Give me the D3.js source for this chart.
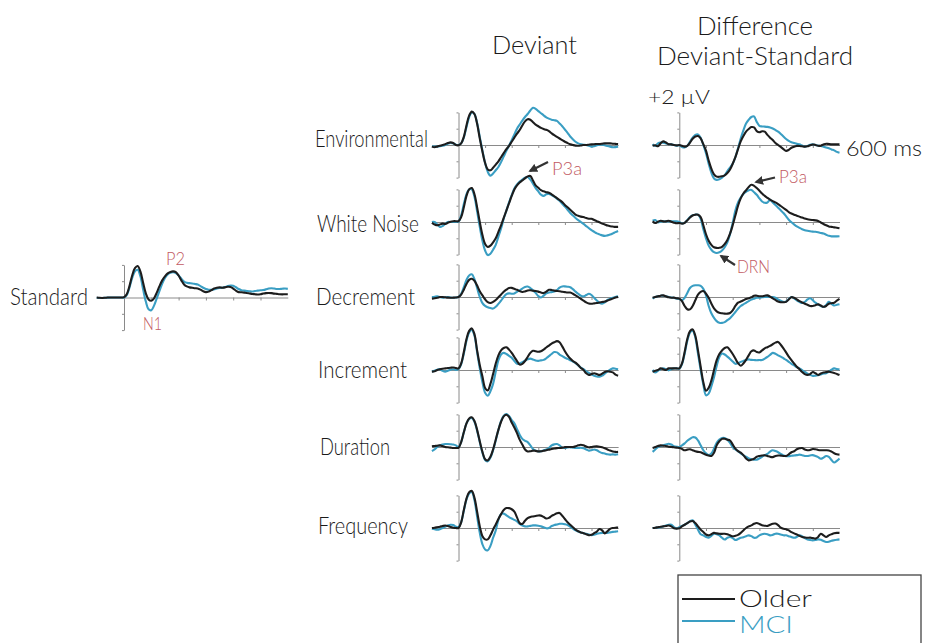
<!DOCTYPE html>
<html>
<head>
<meta charset="utf-8">
<script src="https://cdn.jsdelivr.net/npm/d3@7"></script>
<style>
  html, body { margin: 0; background: #fff; }
  svg { display: block; font-family: Lato, "Open Sans", sans-serif; font-weight: 300; }
</style>
</head>
<body>
<svg id="chart" width="925" height="643"></svg>
<script>
// Sampling grid of every waveform: -100 .. 600 ms, 10 ms steps (71 samples)
const timeMs = d3.range(-100, 601, 10);

const rowNames = ["Environmental", "White Noise", "Decrement", "Increment", "Duration", "Frequency"];
const columnTitles = ["Deviant", "Difference", "Deviant-Standard"];
const groupNames = ["Older", "MCI"];
const voltTicks = [-2, -1, 0, 1, 2];        // µV
const timeTicks = [100, 200, 300, 400, 500]; // ms

// ---- Standard (µV) ----
const standardOlder = [
  0.0, -0.02, -0.03, -0.02, 0, 0, 0, 0, 0, 0,
  0.02, 0.2, 0.7, 1.35, 1.8, 1.93, 1.6, 0.9, 0.25, -0.12,
  -0.2, -0.05, 0.3, 0.7, 1.05, 1.3, 1.48, 1.57, 1.6, 1.55,
  1.35, 1.05, 0.8, 0.68, 0.62, 0.6, 0.57, 0.55, 0.48, 0.38,
  0.33, 0.36, 0.45, 0.55, 0.6, 0.62, 0.6, 0.62, 0.66, 0.65,
  0.55, 0.42, 0.33, 0.32, 0.3, 0.28, 0.25, 0.22, 0.2, 0.18,
  0.2, 0.24, 0.27, 0.28, 0.27, 0.24, 0.22, 0.2, 0.19, 0.2,
  0.2];
const standardMCI = [
  -0.02, -0.03, -0.03, -0.02, -0.01, 0, 0, 0, 0, 0,
  0.0, 0.15, 0.6, 1.2, 1.6, 1.7, 1.3, 0.5, -0.25, -0.72,
  -0.78, -0.5, -0.05, 0.4, 0.85, 1.2, 1.42, 1.52, 1.55, 1.5,
  1.35, 1.15, 0.98, 0.9, 0.88, 0.86, 0.83, 0.8, 0.7, 0.6,
  0.52, 0.48, 0.47, 0.5, 0.55, 0.58, 0.6, 0.64, 0.7, 0.73,
  0.72, 0.63, 0.52, 0.45, 0.42, 0.4, 0.38, 0.37, 0.4, 0.42,
  0.44, 0.46, 0.5, 0.55, 0.57, 0.55, 0.52, 0.52, 0.54, 0.55,
  0.53];

// ---- Deviant (µV) ----
const devEnvOlder = [
  -0.1, -0.14, -0.1, -0.05, 0.0, 0.05, 0.12, 0.16, 0.12, 0.0,
  -0.02, 0.1, 0.5, 1.2, 1.8, 2.05, 1.9, 1.3, 0.4, -0.4,
  -1.1, -1.5, -1.55, -1.4, -1.2, -1.0, -0.75, -0.5, -0.25, -0.05,
  0.2, 0.45, 0.7, 0.92, 1.2, 1.45, 1.58, 1.55, 1.4, 1.25,
  1.15, 1.05, 0.98, 0.93, 0.85, 0.72, 0.6, 0.5, 0.4, 0.3,
  0.2, 0.12, 0.05, 0.0, -0.04, -0.05, -0.03, 0.0, 0.0, 0.02,
  0.04, 0.05, 0.06, 0.06, 0.08, 0.1, 0.1, 0.1, 0.08, 0.07,
  0.06];
const devEnvMCI = [
  -0.08, -0.1, -0.1, -0.08, -0.05, 0.0, 0.08, 0.12, 0.1, 0.02,
  0.0, 0.1, 0.45, 1.1, 1.7, 2.0, 1.9, 1.35, 0.5, -0.35,
  -1.1, -1.65, -1.88, -1.75, -1.55, -1.35, -1.05, -0.7, -0.35, -0.05,
  0.3, 0.65, 1.0, 1.25, 1.5, 1.72, 1.9, 2.12, 2.28, 2.22,
  2.08, 1.95, 1.82, 1.7, 1.62, 1.55, 1.52, 1.48, 1.32, 1.15,
  0.95, 0.75, 0.52, 0.35, 0.2, 0.1, 0.04, 0.02, 0.0, -0.05,
  -0.1, -0.08, -0.02, 0.02, 0.02, -0.02, -0.06, -0.1, -0.14, -0.13,
  -0.1];
const devWhiteOlder = [
  -0.05, -0.15, -0.2, -0.15, -0.1, -0.12, -0.05, 0.02, 0.05, 0.05,
  0.05, 0.3, 0.9, 1.6, 2.0, 2.08, 1.7, 0.9, 0.0, -0.8,
  -1.35, -1.53, -1.45, -1.25, -1.0, -0.6, -0.2, 0.25, 0.7, 1.15,
  1.6, 2.0, 2.25, 2.42, 2.55, 2.68, 2.8, 2.82, 2.55, 2.25,
  2.1, 1.95, 1.88, 1.83, 1.8, 1.7, 1.58, 1.47, 1.35, 1.22,
  1.05, 0.9, 0.75, 0.6, 0.45, 0.38, 0.33, 0.3, 0.24, 0.2,
  0.2, 0.12, 0.05, -0.02, -0.1, -0.15, -0.22, -0.26, -0.28, -0.3,
  -0.3];
const devWhiteMCI = [
  0.0, 0.0, -0.15, -0.3, -0.25, -0.12, 0.0, 0.0, 0.0, 0.0,
  0.02, 0.4, 1.1, 1.7, 2.0, 2.0, 1.55, 0.65, -0.3, -1.15,
  -1.75, -2.03, -1.95, -1.7, -1.4, -0.9, -0.4, 0.2, 0.7, 1.2,
  1.65, 2.05, 2.3, 2.48, 2.6, 2.72, 2.76, 2.6, 2.35, 2.08,
  1.88, 1.68, 1.6, 1.7, 1.72, 1.65, 1.55, 1.43, 1.3, 1.12,
  0.95, 0.75, 0.55, 0.4, 0.25, 0.12, 0.0, -0.12, -0.25, -0.38,
  -0.5, -0.6, -0.7, -0.76, -0.82, -0.85, -0.82, -0.77, -0.7, -0.62,
  -0.55];
const devDecOlder = [
  -0.1, -0.08, -0.05, 0.0, 0.0, -0.02, -0.04, -0.05, -0.04, -0.03,
  0.0, 0.15, 0.45, 0.8, 1.05, 1.12, 1.0, 0.7, 0.35, 0.1,
  -0.15, -0.32, -0.37, -0.3, -0.18, -0.02, 0.15, 0.32, 0.45, 0.55,
  0.56, 0.5, 0.44, 0.36, 0.31, 0.34, 0.4, 0.41, 0.38, 0.37,
  0.33, 0.27, 0.24, 0.33, 0.44, 0.43, 0.39, 0.37, 0.35, 0.32,
  0.3, 0.28, 0.27, 0.2, 0.1, 0.0, -0.12, -0.22, -0.33, -0.4,
  -0.41, -0.39, -0.37, -0.34, -0.31, -0.28, -0.22, -0.16, -0.1, -0.03,
  0.0];
const devDecMCI = [
  0.0, 0.02, 0.05, 0.0, -0.04, -0.02, 0.0, -0.04, -0.05, -0.03,
  0.0, 0.2, 0.6, 1.05, 1.32, 1.39, 1.1, 0.55, 0.0, -0.38,
  -0.55, -0.63, -0.68, -0.71, -0.6, -0.42, -0.22, 0.0, 0.18, 0.22,
  0.2, 0.22, 0.32, 0.41, 0.52, 0.62, 0.64, 0.55, 0.42, 0.25,
  0.05, -0.03, 0.08, 0.22, 0.28, 0.3, 0.33, 0.42, 0.58, 0.65,
  0.65, 0.63, 0.6, 0.48, 0.33, 0.2, 0.08, 0.04, 0.12, 0.2,
  0.12, -0.05, -0.22, -0.36, -0.41, -0.33, -0.18, -0.1, -0.05, 0.0,
  0.04];
const devIncOlder = [
  -0.1, -0.08, 0.0, 0.05, 0.08, 0.1, 0.12, 0.14, 0.15, 0.12,
  0.1, 0.4, 1.1, 1.9, 2.4, 2.55, 2.2, 1.2, 0.3, -0.4,
  -1.1, -1.25, -0.85, -0.25, 0.4, 0.9, 1.2, 1.35, 1.39, 1.25,
  1.05, 0.8, 0.55, 0.33, 0.38, 0.55, 0.8, 1.05, 1.18, 1.15,
  1.12, 1.15, 1.25, 1.38, 1.5, 1.62, 1.7, 1.77, 1.7, 1.45,
  1.15, 0.9, 0.7, 0.55, 0.45, 0.3, 0.12, 0.0, -0.2, -0.3,
  -0.25, -0.2, -0.25, -0.3, -0.22, -0.12, -0.08, -0.1, -0.15, -0.28,
  -0.35];
const devIncMCI = [
  -0.1, -0.05, 0.02, 0.05, -0.05, -0.1, -0.05, 0.02, 0.05, 0.0,
  0.05, 0.35, 1.0, 1.8, 2.3, 2.45, 2.1, 1.1, 0.1, -0.75,
  -1.4, -1.58, -1.3, -0.85, -0.1, 0.6, 0.95, 1.05, 0.98, 0.87,
  0.75, 0.55, 0.38, 0.4, 0.48, 0.58, 0.66, 0.7, 0.65, 0.58,
  0.56, 0.59, 0.62, 0.72, 0.85, 0.98, 1.1, 1.08, 0.95, 0.85,
  0.75, 0.68, 0.6, 0.52, 0.42, 0.28, 0.15, 0.05, -0.08, -0.18,
  -0.28, -0.35, -0.4, -0.41, -0.35, -0.22, -0.1, 0.02, 0.1, 0.08,
  0.05];
const devDurOlder = [
  0.04, 0.06, 0.08, 0.1, 0.06, 0.0, -0.02, -0.04, -0.06, -0.06,
  -0.05, 0.3, 0.9, 1.45, 1.75, 1.82, 1.6, 1.05, 0.35, -0.3,
  -0.75, -0.82, -0.6, -0.15, 0.45, 1.05, 1.55, 1.88, 1.98, 1.85,
  1.5, 1.2, 0.85, 0.45, 0.15, -0.15, -0.27, -0.26, -0.22, -0.24,
  -0.27, -0.26, -0.23, -0.2, -0.16, -0.12, -0.09, -0.07, -0.06, -0.04,
  -0.01, 0.0, 0.0, 0.0, 0.04, 0.1, 0.14, 0.1, 0.03, -0.02,
  0.0, 0.03, 0.04, 0.02, -0.02, -0.08, -0.15, -0.22, -0.27, -0.3,
  -0.3];
const devDurMCI = [
  -0.25, -0.15, 0.0, 0.1, 0.15, 0.18, 0.18, 0.17, 0.15, 0.1,
  0.0, 0.3, 0.9, 1.45, 1.72, 1.78, 1.55, 1.0, 0.3, -0.35,
  -0.8, -0.88, -0.65, -0.2, 0.4, 1.05, 1.6, 1.92, 2.02, 1.9,
  1.65, 1.45, 1.1, 0.75, 0.5, 0.38, 0.3, 0.1, -0.12, -0.22,
  -0.27, -0.26, -0.2, -0.15, -0.05, 0.1, 0.16, 0.18, 0.1, -0.04,
  -0.06, -0.03, -0.02, -0.04, -0.06, -0.06, -0.05, -0.08, -0.15, -0.22,
  -0.2, -0.15, -0.2, -0.3, -0.37, -0.4, -0.45, -0.47, -0.45, -0.47,
  -0.45];
const devFreqOlder = [
  0.0, 0.02, 0.05, 0.08, 0.12, 0.15, 0.12, 0.06, 0.02, 0.0,
  0.0, 0.35, 1.1, 1.8, 2.2, 2.27, 1.85, 1.0, 0.1, -0.5,
  -0.7, -0.7, -0.45, -0.1, 0.22, 0.55, 0.85, 1.1, 1.22, 1.22,
  1.15, 1.0, 0.65, 0.3, 0.25, 0.45, 0.6, 0.68, 0.71, 0.74,
  0.77, 0.76, 0.68, 0.58, 0.62, 0.74, 0.82, 0.9, 0.92, 0.75,
  0.55, 0.35, 0.2, 0.05, -0.1, -0.2, -0.27, -0.32, -0.38, -0.44,
  -0.42, -0.32, -0.22, -0.06, -0.15, -0.33, -0.2, -0.05, 0.0, 0.02,
  0.02];
const devFreqMCI = [
  -0.05, -0.08, -0.1, -0.07, 0.0, 0.08, 0.15, 0.2, 0.18, 0.08,
  0.05, 0.35, 1.05, 1.75, 2.12, 2.2, 1.7, 0.7, -0.3, -1.0,
  -1.32, -1.37, -1.1, -0.6, -0.15, 0.5, 0.85, 0.88, 0.78, 0.67,
  0.58, 0.5, 0.4, 0.25, 0.15, 0.1, 0.1, 0.13, 0.16, 0.16,
  0.14, 0.1, 0.05, -0.02, 0.0, 0.12, 0.18, 0.22, 0.26, 0.26,
  0.23, 0.18, 0.08, -0.04, -0.14, -0.22, -0.27, -0.32, -0.35, -0.4,
  -0.44, -0.42, -0.36, -0.32, -0.3, -0.3, -0.3, -0.27, -0.24, -0.22,
  -0.2];

// ---- Difference, deviant minus standard (µV) ----
const diffEnvOlder = [
  -0.05, -0.02, -0.08, 0.1, 0.22, 0.15, 0.05, 0.04, 0.0, -0.02,
  0.0, -0.05, -0.1, -0.05, 0.15, 0.38, 0.52, 0.55, 0.4, 0.05,
  -0.35, -0.95, -1.45, -1.8, -1.94, -1.95, -1.92, -1.86, -1.72, -1.5,
  -1.15, -0.75, -0.25, 0.22, 0.55, 0.82, 0.98, 1.1, 1.08, 0.85,
  0.78, 0.84, 0.82, 0.62, 0.45, 0.3, 0.12, 0.0, -0.12, -0.25,
  -0.36, -0.3, -0.17, -0.1, -0.06, -0.06, -0.08, -0.1, -0.08, -0.02,
  0.03, 0.0, -0.05, -0.04, 0.03, 0.08, 0.06, 0.04, 0.04, 0.04,
  0.04];
const diffEnvMCI = [
  0.04, -0.06, 0.1, 0.15, 0.14, 0.1, 0.05, 0.04, 0.0, -0.05,
  -0.02, -0.12, -0.15, -0.05, 0.2, 0.45, 0.62, 0.65, 0.45, 0.0,
  -0.5, -1.15, -1.7, -2.05, -2.14, -2.1, -2.0, -1.85, -1.6, -1.38,
  -1.15, -0.75, -0.2, 0.4, 0.9, 1.32, 1.55, 1.72, 1.75, 1.42,
  1.18, 1.14, 1.13, 1.11, 1.07, 1.01, 0.92, 0.82, 0.68, 0.52,
  0.37, 0.25, 0.17, 0.12, 0.07, 0.04, -0.03, -0.1, -0.06, 0.02,
  0.04, 0.0, -0.05, -0.06, -0.1, -0.15, -0.2, -0.27, -0.33, -0.42,
  -0.47];
const diffWhiteOlder = [
  0.04, -0.06, 0.02, 0.08, 0.04, 0.04, 0.08, 0.02, -0.04, -0.08,
  -0.06, -0.1, -0.05, 0.1, 0.28, 0.4, 0.45, 0.45, 0.3, -0.2,
  -0.75, -1.15, -1.4, -1.55, -1.59, -1.58, -1.52, -1.35, -1.1, -0.72,
  -0.2, 0.4, 1.0, 1.45, 1.75, 1.95, 2.15, 2.28, 2.22, 2.08,
  1.92, 1.75, 1.6, 1.48, 1.37, 1.28, 1.2, 1.1, 0.98, 0.86,
  0.74, 0.61, 0.52, 0.45, 0.39, 0.33, 0.27, 0.22, 0.17, 0.14,
  0.12, 0.1, 0.06, -0.03, -0.12, -0.2, -0.27, -0.3, -0.33, -0.35,
  -0.38];
const diffWhiteMCI = [
  0.08, 0.12, -0.02, 0.02, 0.04, 0.04, 0.04, 0.04, 0.04, 0.04,
  0.0, -0.08, -0.05, 0.12, 0.3, 0.42, 0.45, 0.45, 0.2, -0.45,
  -1.0, -1.45, -1.7, -1.85, -1.9, -1.86, -1.75, -1.55, -1.25, -0.75,
  -0.05, 0.7, 1.2, 1.5, 1.72, 1.85, 1.95, 1.97, 1.82, 1.67,
  1.45, 1.26, 1.18, 1.2, 1.36, 1.2, 1.04, 0.88, 0.72, 0.55,
  0.35, 0.14, -0.02, -0.15, -0.27, -0.36, -0.44, -0.5, -0.54, -0.57,
  -0.59, -0.6, -0.63, -0.67, -0.71, -0.78, -0.85, -0.88, -0.88, -0.88,
  -0.87];
const diffDecOlder = [
  -0.04, 0.0, 0.04, 0.08, 0.1, 0.04, -0.02, -0.05, -0.04, -0.08,
  -0.1, -0.25, -0.55, -0.75, -0.76, -0.55, -0.2, 0.15, 0.32, 0.37,
  0.2, -0.05, -0.4, -0.7, -0.88, -0.97, -1.0, -1.02, -1.02, -0.98,
  -0.82, -0.55, -0.35, -0.28, -0.2, -0.12, -0.07, -0.02, 0.08, 0.08,
  0.05, 0.05, 0.08, 0.1, 0.02, -0.08, -0.18, -0.28, -0.32, -0.32,
  -0.3, -0.15, -0.01, -0.05, -0.15, -0.25, -0.34, -0.41, -0.48, -0.55,
  -0.55, -0.5, -0.45, -0.52, -0.6, -0.55, -0.41, -0.38, -0.35, -0.22,
  -0.12];
const diffDecMCI = [
  -0.1, 0.0, 0.04, 0.08, 0.08, 0.05, 0.0, -0.03, -0.05, -0.1,
  -0.12, -0.2, -0.05, 0.25, 0.55, 0.68, 0.72, 0.72, 0.68, 0.5,
  0.1, -0.55, -1.0, -1.28, -1.48, -1.58, -1.59, -1.54, -1.42, -1.3,
  -1.12, -0.92, -0.72, -0.55, -0.45, -0.36, -0.25, -0.16, -0.1, -0.05,
  -0.04, -0.02, 0.0, 0.0, 0.0, 0.0, -0.05, -0.15, -0.22, -0.3,
  -0.28, -0.12, 0.0, -0.08, -0.2, -0.3, -0.37, -0.3, -0.15, -0.08,
  -0.2, -0.35, -0.45, -0.55, -0.61, -0.5, -0.3, -0.42, -0.52, -0.48,
  -0.44];
const diffIncOlder = [
  -0.1, -0.05, 0.0, 0.1, 0.05, 0.0, 0.1, 0.1, 0.1, 0.1,
  0.1, 0.4, 1.1, 1.9, 2.38, 2.49, 2.1, 1.2, 0.2, -0.75,
  -1.27, -1.1, -0.65, 0.0, 0.6, 0.98, 1.2, 1.35, 1.39, 1.22,
  0.98, 0.7, 0.42, 0.26, 0.4, 0.62, 0.9, 1.15, 1.2, 1.1,
  1.08, 1.2, 1.33, 1.4, 1.48, 1.58, 1.68, 1.72, 1.55, 1.33,
  1.08, 0.82, 0.6, 0.4, 0.2, 0.05, -0.12, -0.25, -0.3, -0.25,
  -0.12, -0.2, -0.3, -0.22, -0.16, -0.13, -0.1, -0.14, -0.18, -0.24,
  -0.31];
const diffIncMCI = [
  0.0, -0.15, -0.05, 0.05, 0.1, 0.05, -0.02, 0.05, 0.1, 0.1,
  0.08, 0.35, 1.0, 1.8, 2.3, 2.41, 2.0, 1.0, 0.0, -0.9,
  -1.55, -1.45, -1.0, -0.45, 0.25, 0.8, 1.01, 0.95, 0.82, 0.68,
  0.52, 0.38, 0.42, 0.5, 0.56, 0.62, 0.65, 0.62, 0.61, 0.6,
  0.61, 0.61, 0.7, 0.8, 0.93, 1.05, 1.0, 0.9, 0.82, 0.72,
  0.62, 0.5, 0.38, 0.28, 0.18, 0.1, 0.0, -0.12, -0.22, -0.3,
  -0.36, -0.35, -0.32, -0.28, -0.22, -0.2, -0.1, 0.02, 0.1, 0.06,
  0.04];
const diffDurOlder = [
  -0.06, 0.0, 0.06, 0.1, 0.08, 0.06, 0.02, 0.0, -0.02, -0.04,
  -0.06, -0.12, -0.2, -0.16, -0.14, -0.2, -0.26, -0.3, -0.32, -0.4,
  -0.47, -0.52, -0.55, -0.35, 0.1, 0.35, 0.5, 0.51, 0.45, 0.4,
  0.15, -0.1, -0.25, -0.35, -0.5, -0.7, -0.82, -0.78, -0.72, -0.6,
  -0.55, -0.52, -0.51, -0.55, -0.6, -0.62, -0.55, -0.52, -0.53, -0.55,
  -0.55, -0.45, -0.32, -0.26, -0.14, -0.08, -0.06, -0.15, -0.2, -0.18,
  -0.12, -0.14, -0.18, -0.2, -0.2, -0.2, -0.21, -0.28, -0.38, -0.45,
  -0.47];
const diffDurMCI = [
  -0.3, -0.15, 0.0, 0.06, 0.1, 0.15, 0.2, 0.15, 0.05, 0.02,
  0.0, 0.1, 0.22, 0.38, 0.5, 0.6, 0.58, 0.4, 0.1, -0.2,
  -0.38, -0.5, -0.4, -0.1, 0.25, 0.45, 0.55, 0.55, 0.45, 0.25,
  0.0, -0.15, -0.25, -0.4, -0.51, -0.6, -0.7, -0.75, -0.78, -0.78,
  -0.7, -0.6, -0.5, -0.42, -0.28, -0.2, -0.25, -0.32, -0.42, -0.52,
  -0.56, -0.56, -0.54, -0.52, -0.5, -0.47, -0.5, -0.55, -0.55, -0.52,
  -0.5, -0.55, -0.62, -0.72, -0.65, -0.55, -0.6, -0.8, -0.95, -0.85,
  -0.7];
const diffFreqOlder = [
  0.0, 0.02, 0.05, 0.08, 0.1, 0.12, 0.15, 0.1, -0.02, -0.04,
  -0.02, 0.1, 0.2, 0.3, 0.4, 0.43, 0.3, 0.1, -0.1, -0.24,
  -0.4, -0.45, -0.38, -0.3, -0.33, -0.35, -0.36, -0.35, -0.38, -0.45,
  -0.51, -0.48, -0.42, -0.3, -0.15, 0.0, 0.1, 0.16, 0.26, 0.31,
  0.25, 0.17, 0.14, 0.13, 0.2, 0.26, 0.27, 0.18, 0.02, -0.05,
  -0.07, -0.15, -0.25, -0.33, -0.4, -0.48, -0.55, -0.58, -0.6, -0.59,
  -0.62, -0.65, -0.55, -0.35, -0.45, -0.55, -0.45, -0.38, -0.32, -0.3,
  -0.3];
const diffFreqMCI = [
  0.0, 0.02, 0.03, 0.05, 0.1, 0.15, 0.2, 0.2, 0.05, -0.02,
  0.05, 0.12, 0.2, 0.3, 0.42, 0.47, 0.2, -0.1, -0.38, -0.45,
  -0.55, -0.59, -0.48, -0.35, -0.38, -0.45, -0.6, -0.71, -0.6, -0.55,
  -0.62, -0.74, -0.68, -0.6, -0.57, -0.5, -0.45, -0.5, -0.6, -0.58,
  -0.45, -0.38, -0.35, -0.38, -0.45, -0.42, -0.35, -0.35, -0.4, -0.45,
  -0.45, -0.5, -0.56, -0.6, -0.55, -0.45, -0.5, -0.62, -0.7, -0.74,
  -0.76, -0.74, -0.7, -0.72, -0.8, -0.86, -0.84, -0.78, -0.75, -0.72,
  -0.7];

const deviantOlder = [devEnvOlder, devWhiteOlder, devDecOlder, devIncOlder, devDurOlder, devFreqOlder];
const deviantMCI   = [devEnvMCI, devWhiteMCI, devDecMCI, devIncMCI, devDurMCI, devFreqMCI];
const diffOlder    = [diffEnvOlder, diffWhiteOlder, diffDecOlder, diffIncOlder, diffDurOlder, diffFreqOlder];
const diffMCI      = [diffEnvMCI, diffWhiteMCI, diffDecMCI, diffIncMCI, diffDurMCI, diffFreqMCI];

// ---------------- drawing ----------------
const svg = d3.select("#chart");
const olderColor = "#1d1d1d";
const mciColor = "#3a9ec3";
const axisColor = "#8a8a8a";
const noteColor = "#c25a62";
const pxPerUV = 16.3;

const rowY = [145, 222, 297, 370, 447, 528];
const deviantZeroX = 458.5, diffZeroX = 679.3;

function drawPanel(zeroX, pxPer100, baseY, older, mci) {
  const x = d3.scaleLinear().domain([-100, 600])
    .range([zeroX - pxPer100, zeroX + 6 * pxPer100]);
  const y = d3.scaleLinear().domain([-2, 2])
    .range([baseY + 2 * pxPerUV, baseY - 2 * pxPerUV]);
  const g = svg.append("g");

  const xAxis = g.append("g").attr("transform", `translate(0,${y(0)})`)
    .call(d3.axisBottom(x).tickValues(timeTicks).tickSize(3).tickSizeOuter(0).tickFormat(""));
  const yAxis = g.append("g").attr("transform", `translate(${x(0)},0)`)
    .call(d3.axisLeft(y).tickValues(voltTicks).tickSize(2).tickSizeOuter(0).tickFormat(""));
  [xAxis, yAxis].forEach(a => {
    a.selectAll("path, line").attr("stroke", axisColor).attr("stroke-width", 1);
  });

  const line = d3.line()
    .x((d, i) => x(timeMs[i]))
    .y(d => y(d))
    .curve(d3.curveCatmullRom.alpha(0.5));

  g.append("path").datum(mci).attr("d", line)
    .attr("fill", "none").attr("stroke", mciColor).attr("stroke-width", 2.1)
    .attr("stroke-linejoin", "round");
  g.append("path").datum(older).attr("d", line)
    .attr("fill", "none").attr("stroke", olderColor).attr("stroke-width", 2.1)
    .attr("stroke-linejoin", "round");
  return {x, y};
}

function label(txt, x, y, size, width, color) {
  const t = svg.append("text").attr("x", x).attr("y", y)
    .attr("font-size", size).attr("fill", color || "#1a1a1a").text(txt);
  if (width) t.attr("textLength", width).attr("lengthAdjust", "spacingAndGlyphs");
  return t;
}

// Standard waveform
drawPanel(124, 27.3, 297.5, standardOlder, standardMCI);
label("Standard", 10, 305, 23, 78);
label("P2", 166, 265, 17, 19, noteColor);
label("N1", 143, 330, 18, 19, noteColor);

// Deviant and difference columns
rowNames.forEach((name, i) => {
  drawPanel(deviantZeroX, 26.6, rowY[i], deviantOlder[i], deviantMCI[i]);
  drawPanel(diffZeroX, 26.7, rowY[i], diffOlder[i], diffMCI[i]);
});

const labelBox = [
  [315, 147, 113], [317, 231.5, 102], [316, 305, 99],
  [318, 378, 89], [320, 455, 70], [318, 533.5, 90]
];
rowNames.forEach((name, i) => {
  const [lx, ly, lw] = labelBox[i];
  label(name, lx, ly, 23, lw);
});

// Column headings
label(columnTitles[0], 492, 54, 26, 85);
label(columnTitles[1], 697, 35, 26, 116);
label(columnTitles[2], 657, 65, 26, 196);

// Scale annotations
label("+2 µV", 648, 104, 20, 62);
label("600 ms", 846, 156, 22, 76);

// Component annotations with arrows
const defs = svg.append("defs");
defs.append("marker").attr("id", "head")
  .attr("viewBox", "0 0 10 10").attr("refX", 8).attr("refY", 5)
  .attr("markerWidth", 4).attr("markerHeight", 4).attr("orient", "auto")
  .append("path").attr("d", "M0,0 L10,5 L0,10 Z").attr("fill", "#333");

function arrow(x1, y1, x2, y2) {
  svg.append("line").attr("x1", x1).attr("y1", y1).attr("x2", x2).attr("y2", y2)
    .attr("stroke", "#333").attr("stroke-width", 2.2).attr("marker-end", "url(#head)");
}
label("P3a", 552, 175, 18, 30, noteColor);
arrow(548, 162, 530, 171);
label("P3a", 779, 183, 18, 28, noteColor);
arrow(775, 177.5, 756, 182);
label("DRN", 737, 273, 18, 33, noteColor);
arrow(735, 265, 721, 256);

// Legend
const legend = svg.append("g");
legend.append("rect").attr("x", 678).attr("y", 575).attr("width", 243).attr("height", 80)
  .attr("fill", "none").attr("stroke", "#444").attr("stroke-width", 1.3);
[[olderColor, 599, 607, 73], [mciColor, 621, 633, 54]].forEach(([c, ly, ty, tw], i) => {
  legend.append("line").attr("x1", 682).attr("x2", 735).attr("y1", ly).attr("y2", ly)
    .attr("stroke", c).attr("stroke-width", 2);
  legend.append("text").attr("x", 739).attr("y", ty).attr("font-size", 23)
    .attr("fill", c).attr("textLength", tw).attr("lengthAdjust", "spacingAndGlyphs")
    .text(groupNames[i]);
});
</script>
</body>
</html>
